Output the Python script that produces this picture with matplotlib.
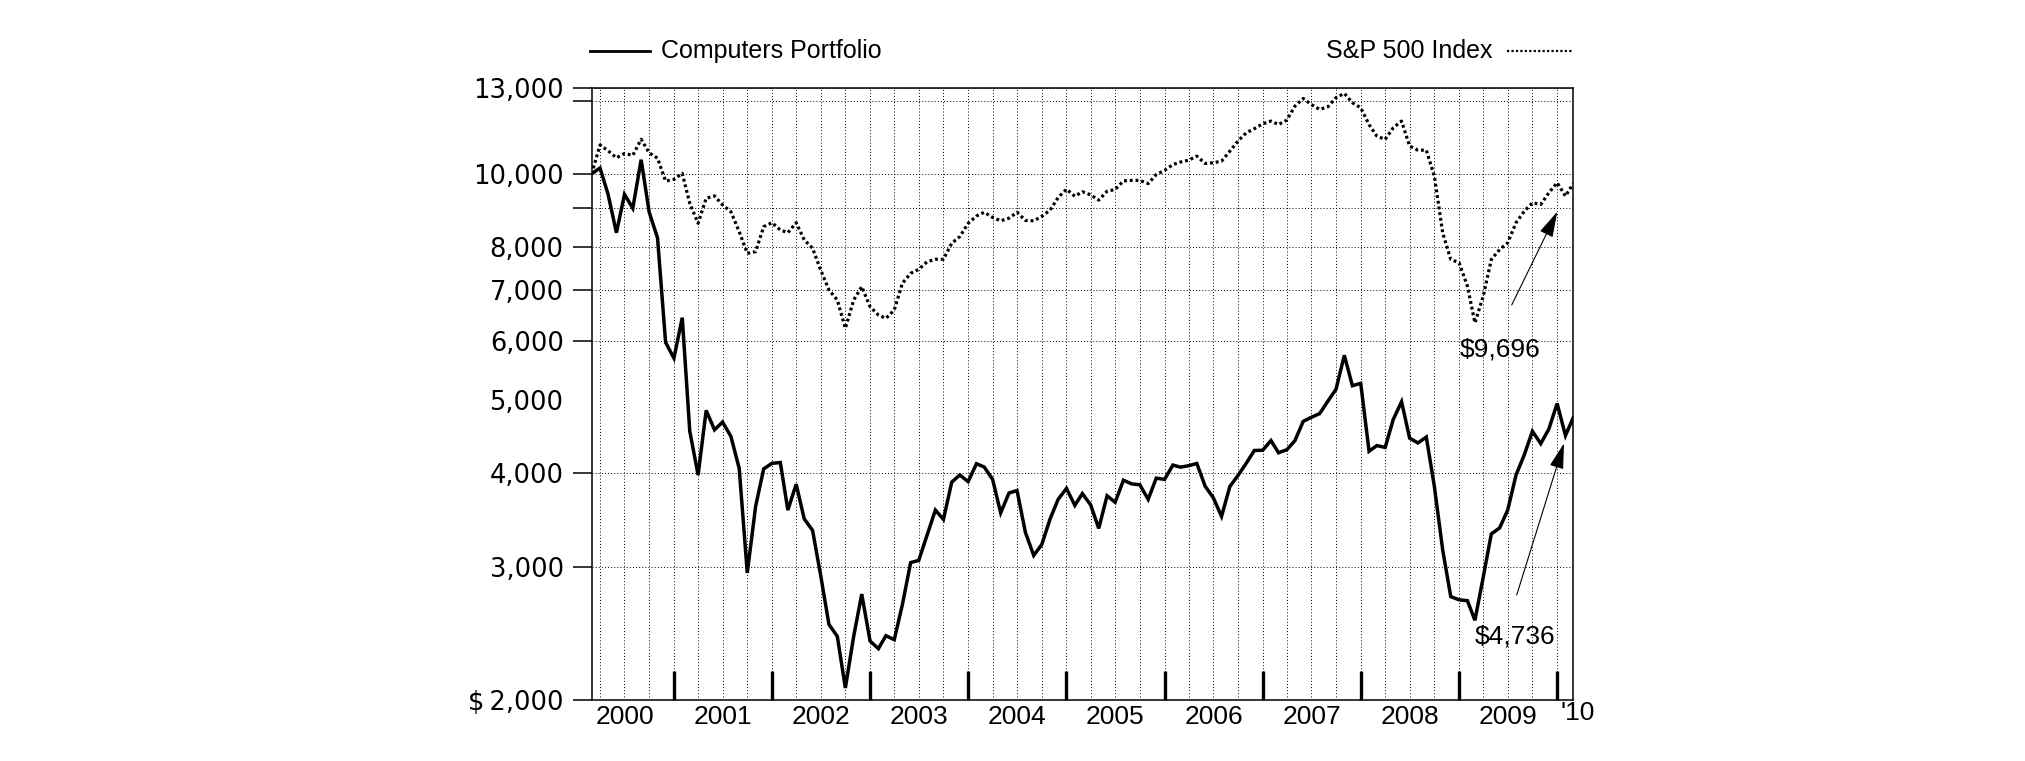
# Computers Portfolio vs S&P 500 - growth of $10,000, monthly, log scale

import pandas as pd
import matplotlib
matplotlib.use("Agg")
import matplotlib.pyplot as plt
from matplotlib.lines import Line2D
from matplotlib.ticker import FixedLocator, FixedFormatter
import matplotlib.transforms as mtransforms

# month-end values, Feb 2000 .. Feb 2010
months = pd.date_range("2000-02-29", periods=121, freq="ME")

computers = [
    10000, 10180, 9390, 8350, 9390, 9000, 10440, 8890, 8220, 5970, 5690, 6440,
    4550, 3980, 4850, 4570, 4680, 4480, 4060, 2950, 3615, 4055, 4125, 4135,
    3575, 3870, 3480, 3360, 2930, 2520, 2430, 2075, 2430, 2765, 2395, 2340,
    2435, 2405, 2675, 3045, 3065, 3310, 3575, 3475, 3895, 3980, 3900, 4120,
    4078, 3927, 3545, 3767, 3795, 3340, 3112, 3218, 3480, 3695, 3820, 3627,
    3760, 3632, 3380, 3735, 3662, 3917, 3873, 3863, 3695, 3942, 3927, 4103,
    4077, 4095, 4123, 3846, 3715, 3507, 3843, 3973, 4126, 4290, 4293, 4422,
    4260, 4300, 4420, 4690, 4748, 4802, 4990, 5173, 5740, 5230, 5269, 4280,
    4355, 4330, 4717, 4980, 4455, 4390, 4470, 3845, 3166, 2744, 2717, 2710,
    2552, 2913, 3324, 3385, 3576, 3980, 4236, 4550, 4381, 4580, 4953, 4490,
    4736,
]

sp500 = [
    10000, 10920, 10730, 10500, 10640, 10580, 11115, 10660, 10490, 9780, 9830, 10012,
    9137, 8594, 9278, 9345, 9091, 8905, 8377, 7840, 7880, 8506, 8611, 8421,
    8352, 8611, 8168, 7963, 7452, 7010, 6798, 6234, 6798, 7081, 6660, 6492,
    6426, 6592, 7153, 7375, 7465, 7640, 7700, 7700, 8086, 8252, 8594, 8789,
    8890, 8750, 8660, 8730, 8890, 8670, 8660, 8780, 8950, 9300, 9540, 9335,
    9465, 9375, 9225, 9480, 9530, 9785, 9800, 9800, 9705, 9975, 10105, 10285,
    10365, 10427, 10555, 10321, 10342, 10395, 10717, 11051, 11336, 11476, 11650, 11749,
    11625, 11785, 12297, 12590, 12360, 12175, 12275, 12620, 12787, 12426, 12237, 11625,
    11220, 11110, 11510, 11749, 10884, 10750, 10750, 9930, 8348, 7695, 7620, 7092,
    6339, 6878, 7695, 7932, 8096, 8609, 8921, 9151, 9105, 9435, 9729, 9340,
    9696,
]

y_ticks = [2000, 3000, 4000, 6000, 7000, 8000, 9000, 10000, 12500, 13000]
y_labels = ["$\u20092,000", "3,000", "4,000", "6,000", "7,000", "8,000", "", "10,000", "", "13,000"]
years = list(range(2000, 2010))
year_labels = [str(y) for y in years]

W, H = 2025, 761

plt.rcParams['font.family'] = ['Liberation Sans', 'DejaVu Sans']

fig = plt.figure(figsize=(W / 100, H / 100), dpi=100)
ax = fig.add_axes([591.7 / W, 61 / H, (1573 - 591.7) / W, (700 - 88) / H])

ax.plot(months, computers, color='black', lw=2.5, solid_joinstyle='miter')
ax.plot(months, sp500, color='black', lw=2.3, linestyle=(0, (0.9, 0.9)),
        dash_capstyle='butt')

ax.set_yscale('log')
ax.set_ylim(2000, 13000)
ax.set_xlim(months[0], months[-1])

# y axis: gridded ticks, plus an unticked 5,000 label
ax.yaxis.set_major_locator(FixedLocator(y_ticks))
ax.yaxis.set_major_formatter(FixedFormatter(y_labels))
ax.yaxis.set_minor_locator(FixedLocator([5000]))
ax.yaxis.set_minor_formatter(FixedFormatter(["5,000"]))
ax.tick_params(axis='y', which='major', direction='out', length=13.7, width=1.1,
               pad=6.5, labelsize=18.5)
ax.tick_params(axis='y', which='minor', length=0, pad=20.3, labelsize=18.5)
for lab in ax.get_yticklabels(which='both'):
    lab.set_fontfamily('DejaVu Sans')

# x axis: year-end ticks, quarter gridlines
year_ends = [pd.Timestamp(f"{y}-12-31") for y in years]
quarter_ends = pd.date_range("2000-03-31", "2009-12-31", freq="QE")
ax.xaxis.set_major_locator(FixedLocator(matplotlib.dates.date2num(year_ends)))
ax.xaxis.set_minor_locator(FixedLocator(matplotlib.dates.date2num(quarter_ends)))
ax.tick_params(axis='x', which='major', direction='in', length=21, width=2.4,
               labelbottom=False)
ax.tick_params(axis='x', which='minor', length=0, labelbottom=False)

grid_kw = dict(color='black', lw=0.7, linestyle=(0, (1, 2.2)))
ax.grid(True, which='major', axis='both', **grid_kw)
ax.grid(True, which='minor', axis='x', **grid_kw)

for s in ax.spines.values():
    s.set_linewidth(1.1)

trans = mtransforms.blended_transform_factory(ax.transData, ax.transAxes)
for y, lab in zip(years, year_labels):
    ax.text(pd.Timestamp(f"{y}-07-01"), -0.027, lab, transform=trans, ha='center',
            va='center', fontsize=19,
            family=['Liberation Sans Narrow', 'Liberation Sans'])
ax.text(pd.Timestamp("2010-03-18"), -0.022, "'10", transform=trans, ha='center',
        va='center', fontsize=19, family=['Liberation Sans Narrow', 'Liberation Sans'])

# legend row above the plot
fig.add_artist(Line2D([590 / W, 650 / W], [1 - 50.7 / H] * 2, color='black', lw=2.0,
                      transform=fig.transFigure))
fig.text(661 / W, 1 - 51 / H, "Computers Portfolio", ha='left', va='center', fontsize=18)
fig.text(1492.6 / W, 1 - 51 / H, "S&P 500 Index", ha='right', va='center', fontsize=18)
fig.add_artist(Line2D([1507 / W, 1572 / W], [1 - 50.7 / H] * 2, color='black', lw=1.6,
                      linestyle=(0, (1, 1)), transform=fig.transFigure))

# ending value callouts
arrow_kw = dict(arrowstyle='-|>,head_length=0.8,head_width=0.22', color='black', lw=0.8,
                shrinkA=0, shrinkB=0, mutation_scale=20)
ax.annotate("", xy=(1557.3, H - 211.7), xytext=(1511.7, H - 305),
            xycoords='figure pixels', textcoords='figure pixels', arrowprops=arrow_kw)
fig.text(1460 / W, 1 - 349 / H, "$9,696", ha='left', va='center', fontsize=19)
ax.annotate("", xy=(1564, H - 443.3), xytext=(1516.7, H - 595),
            xycoords='figure pixels', textcoords='figure pixels', arrowprops=arrow_kw)
fig.text(1475 / W, 1 - 636.7 / H, "$4,736", ha='left', va='center', fontsize=19)

fig.savefig("out.png", dpi=100)
